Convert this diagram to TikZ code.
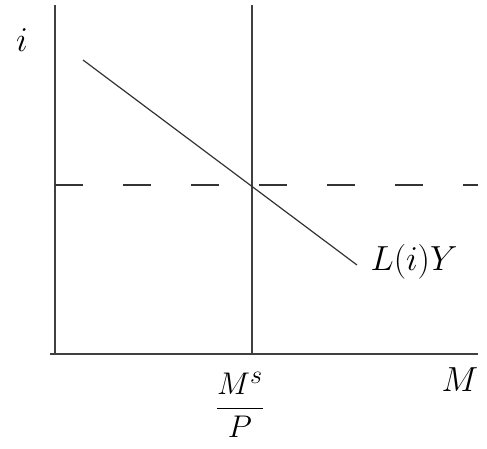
\documentclass[tikz,border=0pt]{standalone}
\begin{document}
\begin{tikzpicture}[x=1pt,y=-1pt,
  every node/.style={font=\Huge,scale=1.4},
  axis/.style={line width=1.6pt,black!75},
  curve/.style={line width=1.2pt,black!80},
  guide/.style={line width=1.2pt,black!80,dash pattern=on 28pt off 40pt}]
\useasboundingbox (0,0) rectangle (487,448);
% axes
\coordinate (o) at (55,354);
\coordinate (top) at (55,5);
\coordinate (right) at (478,354);
\draw[axis] (top)--(o)--(50,354) (o)--(right);
% money supply
\coordinate (ms1) at (252,5);
\coordinate (ms0) at (252,354);
\draw[axis] (ms1)--(ms0);
% demand
\coordinate (d1) at (83,60);
\coordinate (d0) at (357,265);
\draw[curve] (d1)--(d0);
% equilibrium rate
\coordinate (e0) at (55,185);
\coordinate (e1) at (478,185);
\draw[guide] (e0)--(e1);
% labels
\node (li) at (22,40) {$i$};
\node (ll) at (414,262) {$L(i)Y$};
\node[scale=0.9] (lm) at (240,405) {$\displaystyle\frac{M^s}{P}$};
\node (lM) at (460,380) {$M$};
\end{tikzpicture}
\end{document}
